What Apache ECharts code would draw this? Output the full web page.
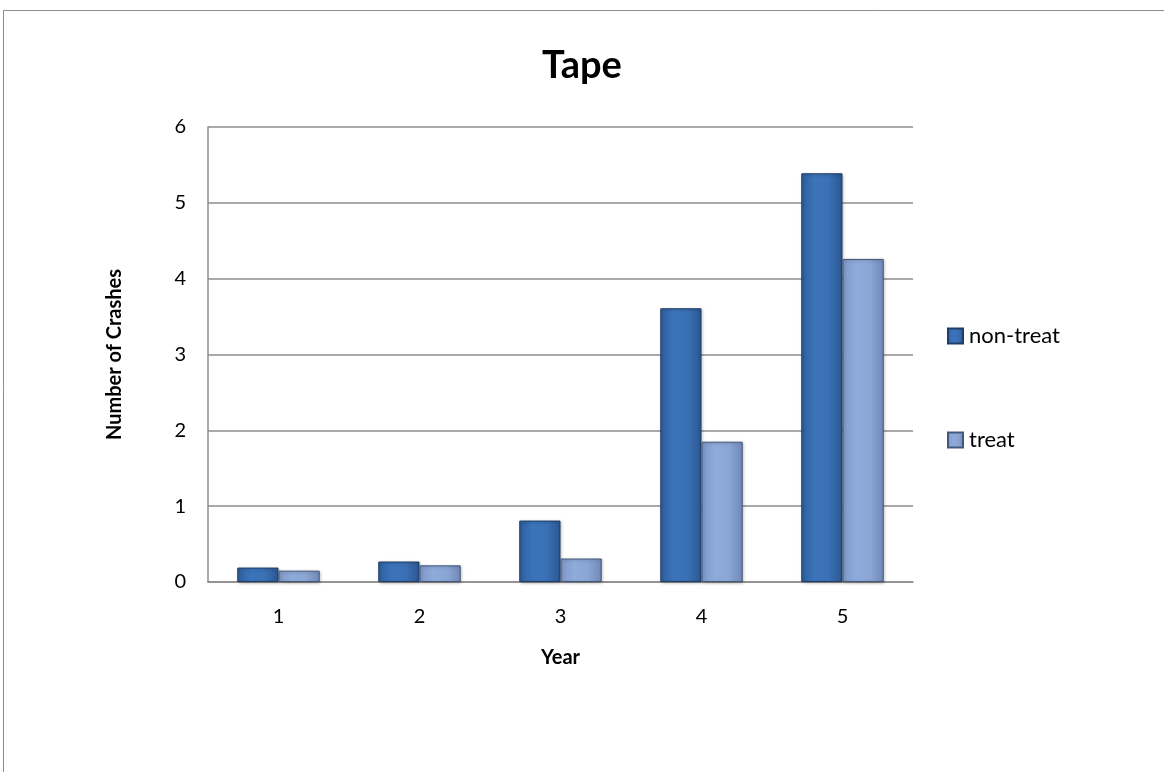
<!DOCTYPE html>
<html>
<head>
<meta charset="utf-8">
<script src="https://cdn.jsdelivr.net/npm/echarts@6/dist/echarts.min.js"></script>
<style>html,body{margin:0;padding:0;background:#fff}#c{width:1164px;height:772px}</style>
</head>
<body>
<div id="c"></div>
<script>
const years = ['1', '2', '3', '4', '5'];
const nonTreat = [0.19, 0.27, 0.81, 3.61, 5.39];
const treat = [0.15, 0.22, 0.31, 1.85, 4.26];
const yTicks = { min: 0, max: 6, interval: 1 };

const FONT = 'Lato, "Open Sans", sans-serif';
const chart = echarts.init(document.getElementById('c'), null, { renderer: 'canvas' });

function hGrad(stops) {
  return new echarts.graphic.LinearGradient(0, 0, 1, 0, stops.map((c, i) => ({ offset: i / (stops.length - 1), color: c })));
}

chart.setOption({
  backgroundColor: '#ffffff',
  animation: false,
  title: {
    text: 'Tape', left: 'center', top: 42,
    textStyle: { fontFamily: FONT, fontSize: 38, fontWeight: 'bold', color: '#000' }
  },
  graphic: [{
    type: 'rect', shape: { x: 3.5, y: 10.5, width: 1200, height: 800 },
    style: { fill: 'none', stroke: '#8c8c8c', lineWidth: 1 }, silent: true
  }],
  legend: {
    orient: 'vertical', left: 942, top: 320, itemGap: 82,
    itemWidth: 15, itemHeight: 15,
    icon: 'rect',
    textStyle: { fontFamily: FONT, fontSize: 22, color: '#000', padding: [0, 0, 0, 1] },
    data: ['non-treat', 'treat']
  },
  grid: { left: 208, right: 251, top: 127, bottom: 190, containLabel: false },
  xAxis: {
    type: 'category', data: years,
    name: 'Year', nameLocation: 'middle', nameGap: 66,
    nameTextStyle: { fontFamily: FONT, fontSize: 20, fontWeight: 'bold', color: '#000' },
    axisLine: { show: true, lineStyle: { color: '#8c8c8c', width: 1.5 } },
    axisTick: { show: false },
    axisLabel: { fontFamily: FONT, fontSize: 20, color: '#000', margin: 25 }
  },
  yAxis: {
    type: 'value', min: yTicks.min, max: yTicks.max, interval: yTicks.interval,
    name: 'Number of Crashes', nameLocation: 'middle', nameGap: 83, nameRotate: 90,
    nameTextStyle: { fontFamily: FONT, fontSize: 20, fontWeight: 'bold', color: '#000' },
    axisLine: { show: true, lineStyle: { color: '#8c8c8c', width: 1.5 } },
    axisTick: { show: false },
    splitLine: { show: true, lineStyle: { color: '#8c8c8c', width: 1.5 } },
    axisLabel: { fontFamily: FONT, fontSize: 20, color: '#000', margin: 22 }
  },
  series: [
    {
      name: 'non-treat', type: 'bar', data: nonTreat,
      barGap: '0%', barCategoryGap: '41.5%',
      itemStyle: {
        color: hGrad(['#2f5f9e', '#3b74bb', '#3a70b5', '#2b5790']),
        borderColor: '#1f3d66', borderWidth: 1,
        shadowColor: 'rgba(0,0,0,0.25)', shadowBlur: 3, shadowOffsetX: 1, shadowOffsetY: 1
      }
    },
    {
      name: 'treat', type: 'bar', data: treat,
      itemStyle: {
        color: hGrad(['#7f99c8', '#8fabdb', '#8ba6d5', '#7089b6']),
        borderColor: '#45587a', borderWidth: 1,
        shadowColor: 'rgba(0,0,0,0.25)', shadowBlur: 3, shadowOffsetX: 1, shadowOffsetY: 1
      }
    }
  ]
});
</script>
</body>
</html>
